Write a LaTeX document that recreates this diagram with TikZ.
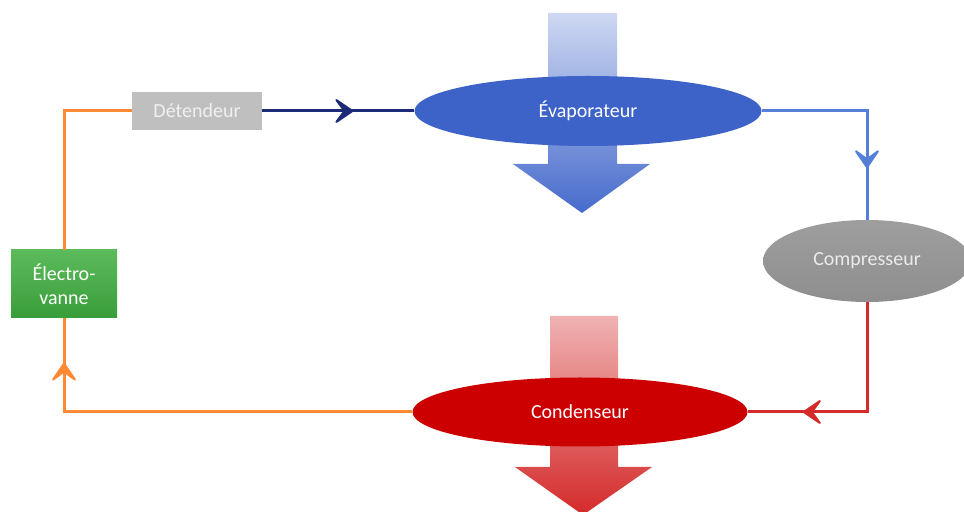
\documentclass[tikz,border=0pt]{standalone}
\usepackage{fontspec}
\setmainfont{Carlito}
\usetikzlibrary{shapes.geometric,arrows.meta,decorations.markings}
\definecolor{evapblue}{HTML}{3D63C9}
\definecolor{condred}{HTML}{CC0000}
\definecolor{compgray}{HTML}{9E9E9E}
\definecolor{detgray}{HTML}{BFBFBF}
\definecolor{valvegreen}{HTML}{3FAF3F}
\definecolor{navyline}{HTML}{1C2A78}
\definecolor{blueline}{HTML}{5580DA}
\definecolor{redline}{HTML}{D42A2A}
\definecolor{orangeline}{HTML}{FF8A33}
\tikzset{
  pipe/.style={line width=1.5pt},
  flowtip/.style={postaction={decorate},decoration={markings,
    mark=at position #1 with {\arrow{Stealth[length=11pt,width=15pt,inset=5.5pt,round,line width=1pt]}}}},
  unit/.style={ellipse,inner sep=0pt,text=white,font=\fontsize{10}{12}\selectfont},
  boxunit/.style={rectangle,inner sep=0pt,text=white,align=center,font=\fontsize{10}{12}\selectfont},
}
\begin{document}
\begin{tikzpicture}[x=0.5pt,y=-0.5pt]
\clip (0,0) rectangle (964,512);
\fill[white] (0,0) rectangle (964,512);
\shade[top color=evapblue!25,bottom color=evapblue!95] (548,13) -- (617,13) -- (617,164) -- (650,164) -- (582,213) -- (513,164) -- (548,164) -- cycle;
\shade[top color=condred!30,bottom color=redline] (550,316) -- (618,316) -- (618,467) -- (652,467) -- (583,515) -- (515,467) -- (550,467) -- cycle;
\node[unit,fill=evapblue,minimum width=173.5pt,minimum height=35pt] (evap) at (588,111) {Évaporateur};
\node[unit,fill=condred,minimum width=167.5pt,minimum height=34.5pt] (cond) at (580,412) {Condenseur};
\node[unit,top color=compgray,bottom color=compgray!90!black,text=white!92!black,minimum width=104pt,minimum height=41pt] (comp) at (867,261) {Compresseur};
\node[boxunit,fill=detgray,text=white!94!black,minimum width=65pt,minimum height=19pt] (det) at (197,111) {Détendeur};
\node[boxunit,top color=valvegreen!85!white,bottom color=valvegreen!90!black,minimum width=53pt,minimum height=34pt] (valve) at (64,284) {Électro-\\vanne};
\draw[pipe,navyline,flowtip=0.6] (det.east) -- (evap.west);
\draw[pipe,blueline,flowtip=0.76] (evap.east) -| (comp.north);
\draw[pipe,redline,flowtip=0.76] (comp.south) |- (cond.east);
\draw[pipe,orangeline,flowtip=0.9] (cond.west) -| (valve.south);
\draw[pipe,orangeline] (valve.north) |- (det.west);
\end{tikzpicture}
\end{document}
